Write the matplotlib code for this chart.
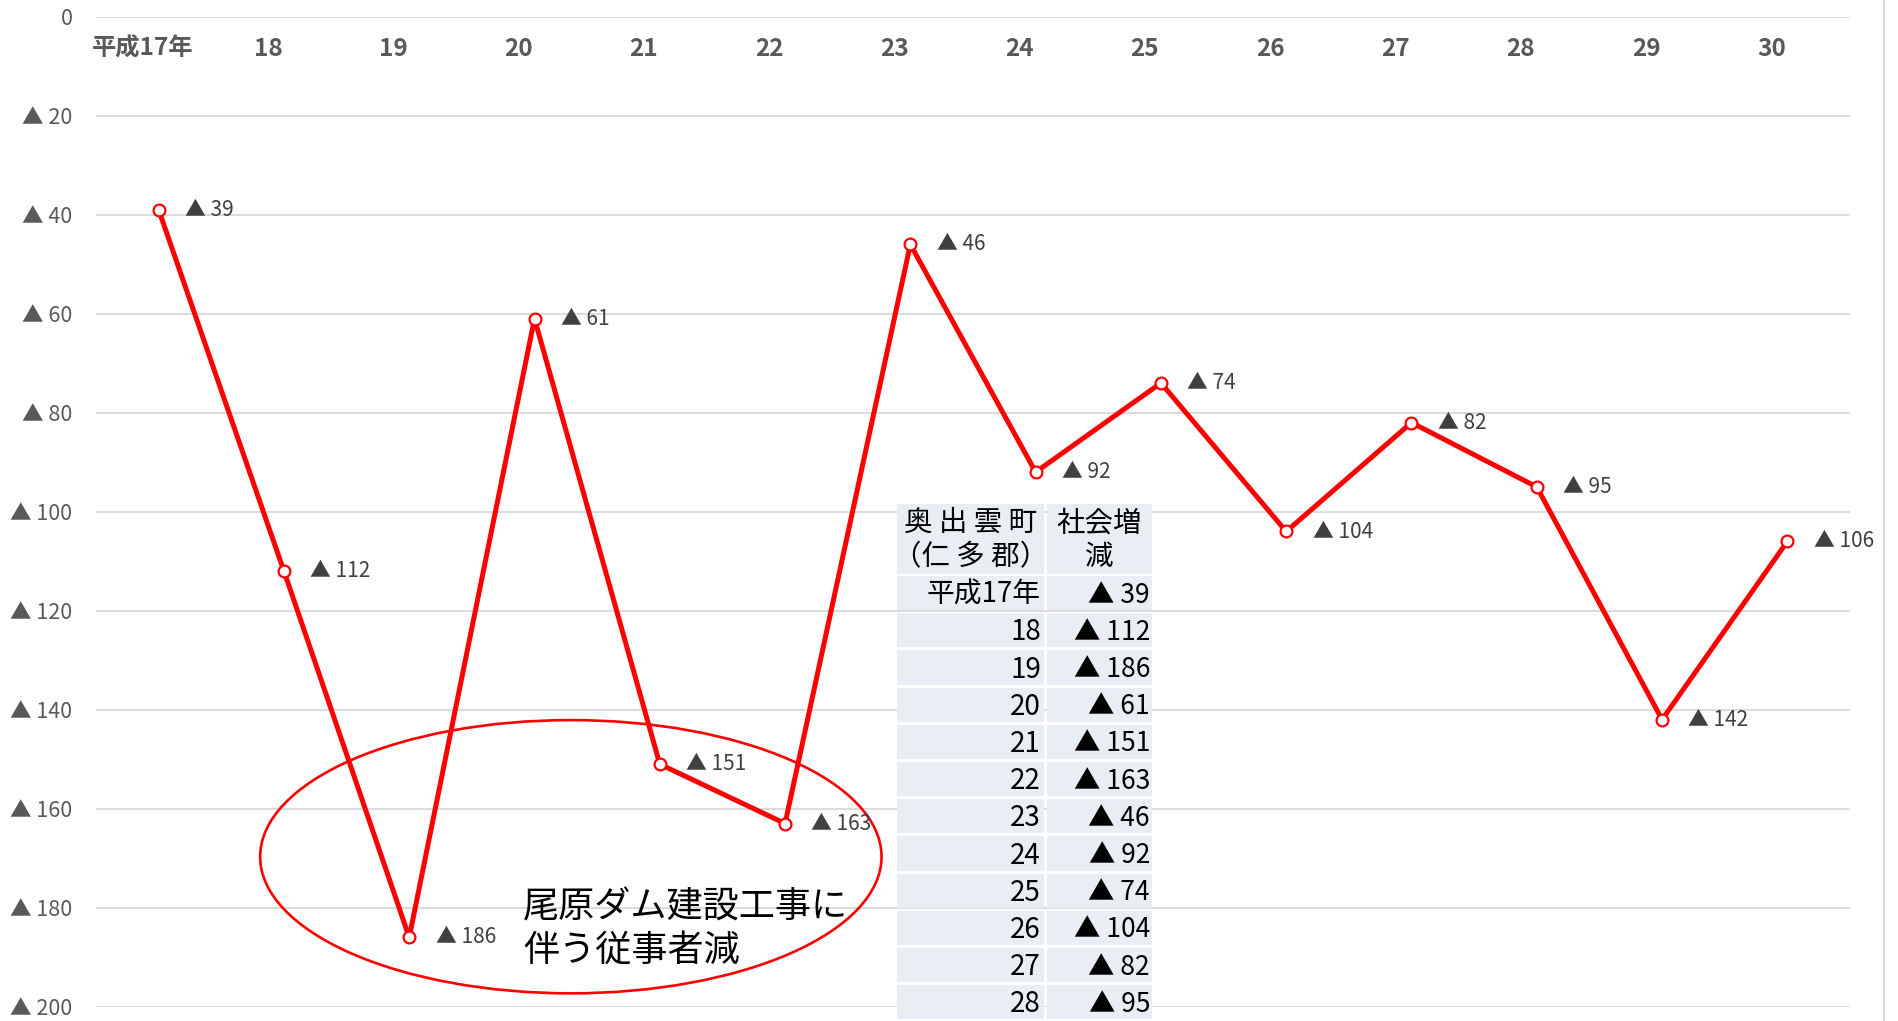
import matplotlib
matplotlib.use("Agg")
import matplotlib.pyplot as plt
from matplotlib.patches import Ellipse, Rectangle
from matplotlib.lines import Line2D

plt.rcParams['font.family'] = ['Noto Sans CJK JP', 'DejaVu Sans']

# ---- data ----
categories = ["平成17年", "18", "19", "20", "21", "22", "23", "24", "25", "26", "27", "28", "29", "30"]
social_change = [-39, -112, -186, -61, -151, -163, -46, -92, -74, -104, -82, -95, -142, -106]
y_ticks = [0, -20, -40, -60, -80, -100, -120, -140, -160, -180, -200]
table_header_left = ["奥 出 雲 町", "（仁 多 郡）"]
table_header_right = ["社会増", "減"]
table_rows_shown = 12
annotation_text = "尾原ダム建設工事に\n伴う従事者減"

W, H = 1898, 1021
fig = plt.figure(figsize=(W / 100, H / 100), dpi=100)
fig.patch.set_facecolor("white")

def fx(px):
    return px / W

def fy(py):
    return 1 - py / H

ax = fig.add_axes([fx(96), fy(1006.7), fx(1850) - fx(96), fy(16.7) - fy(1006.7)])
ax.set_xlim(-0.5, len(categories) - 0.5)
ax.set_ylim(-200, 0)

def fmt(v):
    return "0" if v == 0 else f"▲ {abs(v)}"

ax.set_yticks(y_ticks)
ax.set_yticklabels([fmt(v) for v in y_ticks], fontsize=15.5, color="#595959")
ax.tick_params(axis="y", length=0, pad=17)
ax.set_xticks([])
for s in ax.spines.values():
    s.set_visible(False)
ax.grid(axis="y", color="#D9D9D9", linewidth=1.3)
ax.set_axisbelow(True)

x = list(range(len(categories)))
ax.plot(x, social_change, color="#FF0000", linewidth=3.6, marker="o", markersize=8.5,
        markerfacecolor="white", markeredgecolor="#FF0000", markeredgewidth=1.6, zorder=5)

# top category labels
for i, c in enumerate(categories):
    ax.annotate(c, (i, 0), xytext=(-11.5, -23), textcoords="offset points",
                ha="center", va="center", fontsize=17.5, fontweight="bold", color="#595959")

# data labels
for i, v in enumerate(social_change):
    ax.annotate(fmt(v), (i, v), xytext=(19, 0), textcoords="offset points",
                ha="left", va="center", fontsize=15, color="#404040", zorder=6)

# ellipse annotation
ell = Ellipse((3.29, -169.7), width=4.96, height=55.2, fill=False,
              edgecolor="#FF0000", linewidth=1.9, zorder=4)
ax.add_patch(ell)
ax.text(2.91, -184.3, annotation_text, ha="left", va="center", fontsize=26,
        color="black", linespacing=1.27, zorder=6)

# table overlay (figure pixel layout)
cell_bg = "#E9EDF4"
left_x0, left_x1 = 897, 1044
right_x0, right_x1 = 1047, 1152
head_top, head_bot = 504, 574
row_top0, row_h, gap = 576, 37.2, 3.0

def add_cell(x0, x1, y0, y1):
    fig.add_artist(Rectangle((fx(x0), fy(y1)), fx(x1) - fx(x0), fy(y0) - fy(y1),
                             transform=fig.transFigure, facecolor=cell_bg,
                             edgecolor="none", zorder=10))

add_cell(left_x0, left_x1, head_top, head_bot)
add_cell(right_x0, right_x1, head_top, head_bot)
for k, (tl, tr) in enumerate(zip(table_header_left, table_header_right)):
    yy = 523 + k * 34
    fig.text(fx((left_x0 + left_x1) / 2), fy(yy), tl, ha="center", va="center",
             fontsize=20.5, color="black", zorder=11)
    fig.text(fx((right_x0 + right_x1) / 2), fy(yy), tr, ha="center", va="center",
             fontsize=20.5, color="black", zorder=11)

for r in range(table_rows_shown):
    y0 = row_top0 + r * row_h
    y1 = y0 + row_h - gap
    add_cell(left_x0, left_x1, y0, y1)
    add_cell(right_x0, right_x1, y0, y1)
    yc = (y0 + y1) / 2 + 2
    fig.text(fx(1041), fy(yc), categories[r], ha="right", va="center",
             fontsize=20, color="black", zorder=11)
    fig.text(fx(1150), fy(yc), fmt(social_change[r]), ha="right", va="center",
             fontsize=19, color="black", zorder=11)

# right border line
fig.add_artist(Line2D([fx(1884), fx(1884)], [0, 1], transform=fig.transFigure,
                      color="#D9D9D9", linewidth=1.5))

fig.savefig("out.png", dpi=100, facecolor="white")
